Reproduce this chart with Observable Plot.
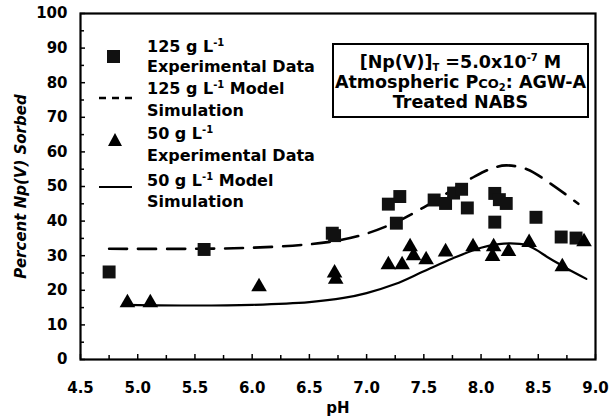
<!DOCTYPE html>
<html>
<head>
<meta charset="utf-8">
<script src="https://cdn.jsdelivr.net/npm/d3@7"></script>
<script src="https://cdn.jsdelivr.net/npm/@observablehq/plot@0.6"></script>
<style>
  body { margin: 0; background: #fff; }
  #wrap { position: relative; width: 611px; height: 417px; font-family: "DejaVu Sans", Verdana, sans-serif; font-weight: bold; color: #000; }
  #wrap svg { display: block; }
  [aria-label="y-axis label"] text, [aria-label="y-axis label"] { font-style: italic; }
  .lg { position: absolute; font-size: 16px; line-height: 20px; white-space: nowrap; }
  .lg sup { font-size: 10px; vertical-align: 6px; line-height: 0; }
  #note { position: absolute; left: 332px; top: 43px; width: 257px; height: 75px; box-sizing: border-box; border: 2px solid #000; background: #fff; font-size: 17.5px; text-align: center; }
  #note div { position: absolute; left: 0; right: 0; line-height: 20px; white-space: nowrap; }
  #note sup { font-size: 10px; vertical-align: 7px; line-height: 0; }
  #note sub { font-size: 10px; vertical-align: -3px; line-height: 0; }
  #note .sc { font-size: 13px; }
  #glyphs { position: absolute; left: 0; top: 0; }
</style>
</head>
<body>
<div id="wrap"></div>
<script>
// 125 g/L experimental data (squares)
const exp125_pH  = [4.75, 5.58, 6.70, 6.72, 7.19, 7.26, 7.29, 7.59, 7.69, 7.76, 7.83, 7.88, 8.12, 8.16, 8.22, 8.12, 8.48, 8.70, 8.83];
const exp125_val = [25.3, 31.8, 36.5, 35.8, 44.9, 39.4, 47.1, 46.1, 45.1, 48.1, 49.2, 43.8, 48.0, 46.2, 45.1, 39.7, 41.1, 35.4, 35.1];
// 50 g/L experimental data (triangles)
const exp50_pH  = [4.91, 5.11, 6.06, 6.72, 6.73, 7.19, 7.31, 7.38, 7.41, 7.52, 7.69, 7.93, 8.11, 8.10, 8.24, 8.42, 8.71, 8.90];
const exp50_val = [16.4, 16.4, 21.0, 25.0, 23.2, 27.4, 27.4, 32.6, 30.0, 28.8, 31.1, 32.6, 32.6, 29.8, 31.2, 33.8, 26.8, 34.0];
// 125 g/L model simulation (dashed)
const sim125_pH  = [4.75, 5.5, 6.0, 6.5, 6.75, 7.0, 7.25, 7.5, 7.75, 7.95, 8.1, 8.22, 8.4, 8.6, 8.85];
const sim125_val = [32.0, 32.0, 32.3, 33.3, 34.4, 36.4, 39.6, 44.0, 49.0, 53.0, 55.3, 56.1, 55.0, 51.0, 45.0];
// 50 g/L model simulation (solid)
const sim50_pH  = [4.91, 5.5, 6.0, 6.5, 6.8, 7.0, 7.25, 7.5, 7.75, 8.0, 8.2, 8.4, 8.6, 8.75, 8.92];
const sim50_val = [15.8, 15.6, 15.8, 16.6, 17.8, 19.2, 21.8, 25.5, 29.2, 32.3, 33.5, 33.0, 29.2, 26.3, 23.3];

const xMajor = [4.5, 5.0, 5.5, 6.0, 6.5, 7.0, 7.5, 8.0, 8.5, 9.0];
const xMinor = [4.75, 5.25, 5.75, 6.25, 6.75, 7.25, 7.75, 8.25, 8.75];
const yMajor = [0, 10, 20, 30, 40, 50, 60, 70, 80, 90, 100];
const yMinor = [5, 15, 25, 35, 45, 55, 65, 75, 85, 95];

const exp125 = exp125_pH.map((x, i) => ({x, y: exp125_val[i]}));
const exp50 = exp50_pH.map((x, i) => ({x, y: exp50_val[i]}));
const sim125 = sim125_pH.map((x, i) => ({x, y: sim125_val[i]}));
const sim50 = sim50_pH.map((x, i) => ({x, y: sim50_val[i]}));

const chart = Plot.plot({
  width: 611, height: 417,
  marginLeft: 80, marginRight: 16, marginTop: 13, marginBottom: 58,
  x: {domain: [4.5, 9]},
  y: {domain: [0, 100]},
  style: {fontFamily: "DejaVu Sans, Verdana, sans-serif", fontWeight: "bold", fontSize: "15px", color: "#000", background: "#fff"},
  marks: [
    Plot.axisX({ticks: xMinor, tickSize: -4, tickFormat: () => "", label: null, strokeWidth: 1.5}),
    Plot.axisX({ticks: xMajor, tickSize: -5, tickPadding: 28, tickFormat: d => d.toFixed(1), strokeWidth: 1.5,
      label: "pH", labelAnchor: "center", labelArrow: "none", labelOffset: 53}),
    Plot.axisY({ticks: yMinor, tickSize: -4, tickFormat: () => "", label: null, strokeWidth: 1.5}),
    Plot.axisY({ticks: yMajor, tickSize: -5, tickPadding: 18, strokeWidth: 1.5,
      label: "Percent Np(V) Sorbed", labelAnchor: "center", labelArrow: "none", labelOffset: 65}),
    Plot.line(sim125, {x: "x", y: "y", curve: "catmull-rom", stroke: "#000", strokeWidth: 2.6, strokeDasharray: "18,11"}),
    Plot.line(sim50, {x: "x", y: "y", curve: "catmull-rom", stroke: "#000", strokeWidth: 2.2}),
    Plot.dot(exp125, {x: "x", y: "y", symbol: "square", r: 7.3, fill: "#111", stroke: null}),
    Plot.dot(exp50, {x: "x", y: "y", symbol: "triangle", r: 5.8, fill: "#000", stroke: null}),
    Plot.frame({stroke: "#000", strokeWidth: 2.2})
  ]
});

const wrap = document.getElementById("wrap");
wrap.appendChild(chart);

// Legend glyphs
const ns = "http://www.w3.org/2000/svg";
const g = document.createElementNS(ns, "svg");
g.setAttribute("id", "glyphs");
g.setAttribute("width", 611); g.setAttribute("height", 417);
g.innerHTML = `
  <rect x="107" y="50" width="13" height="13" fill="#111"/>
  <line x1="99" y1="98" x2="133" y2="98" stroke="#000" stroke-width="2.4" stroke-dasharray="7,6"/>
  <path d="M115,133 L122,146 L108,146 Z" fill="#000"/>
  <line x1="99" y1="187" x2="132" y2="187" stroke="#000" stroke-width="2.2"/>`;
wrap.appendChild(g);

// Legend text
const legendLines = [
  ["125 g L<sup>-1</sup>", 48],
  ["Experimental Data", 68],
  ["125 g L<sup>-1</sup> Model", 90],
  ["Simulation", 112],
  ["50 g L<sup>-1</sup>", 135],
  ["Experimental Data", 157],
  ["50 g L<sup>-1</sup> Model", 182],
  ["Simulation", 203]
];
for (const [html, cy] of legendLines) {
  const d = document.createElement("div");
  d.className = "lg";
  d.style.left = "147px";
  d.style.top = (cy - 11) + "px";
  d.innerHTML = html;
  wrap.appendChild(d);
}

// Annotation box
const note = document.createElement("div");
note.id = "note";
const noteLines = [
  ["[Np(V)]<sub>T</sub> =5.0x10<sup>-7</sup> M", 20],
  ["Atmospheric P<span class=\"sc\">CO<sub>2</sub></span>: AGW-A", 40],
  ["Treated NABS", 60]
];
for (const [html, cy] of noteLines) {
  const d = document.createElement("div");
  d.style.top = (cy - 2 - 11) + "px";
  d.innerHTML = html;
  note.appendChild(d);
}
wrap.appendChild(note);
</script>
</body>
</html>
